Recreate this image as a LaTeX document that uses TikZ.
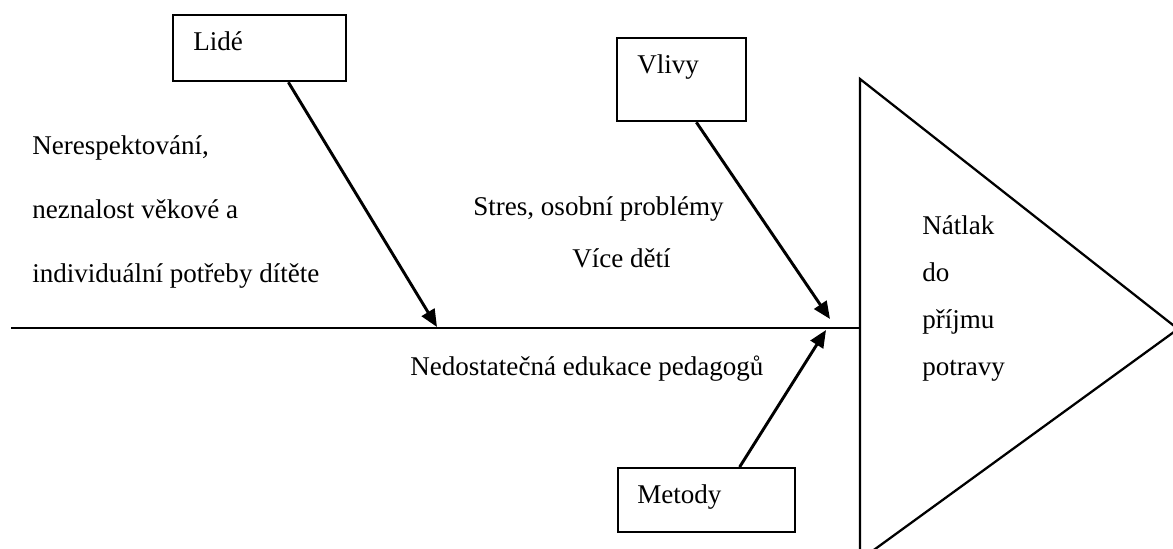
\documentclass[tikz,border=0pt]{standalone}
\usepackage{fontspec}
\setmainfont{Liberation Serif}
\usetikzlibrary{arrows.meta,positioning,calc}

\begin{document}
\begin{tikzpicture}[x=0.75pt,y=-0.75pt,cause box/.style={draw,line width=1.7pt,inner sep=0pt},cause text/.style={anchor=base west,inner sep=0pt,font=\fontsize{20.3}{24}\selectfont},bone/.style={line width=2.2pt,-{Triangle[length=13pt,width=11pt]}}]
\useasboundingbox (0,0) rectangle (1173,549);
% hlava ryby
\draw[line width=1.7pt] (860,79) -- (1178,329) -- (860,560) -- cycle;
\coordinate (spine start) at (11,328);
\coordinate (spine end) at (860,328);
\draw[line width=1.5pt] (spine start) -- (spine end);
% kategorie
\node[cause box,minimum width=173*0.75pt,minimum height=66*0.75pt,anchor=north west] (lide) at (172,14) {};
\node[cause box,minimum width=129*0.75pt,minimum height=83*0.75pt,anchor=north west] (vlivy) at (616,37) {};
\node[cause box,minimum width=177*0.75pt,minimum height=64*0.75pt,anchor=north west] (metody) at (617,467) {};
\node[cause text] (lide text) at (193,51) {Lidé};
\node[cause text] (vlivy text) at (637,74) {Vlivy};
\node[cause text] (metody text) at (637,503) {Metody};
% kosti
\coordinate (lide out) at ($(lide.south west)!0.664!(lide.south east)$);
\coordinate (vlivy out) at ($(vlivy.south west)!0.612!(vlivy.south east)$);
\coordinate (metody out) at ($(metody.north west)!0.684!(metody.north east)$);
\coordinate (lide in) at (437,327);
\coordinate (vlivy in) at (830,319);
\coordinate (metody in) at (826,330);
\draw[bone] (lide out) -- (lide in);
\draw[bone] (vlivy out) -- (vlivy in);
\draw[bone] (metody out) -- (metody in);
% priciny
\node[cause text] (p1) at (32,155) {Nerespektování,};
\node[cause text] (p2) at (32,218) {neznalost věkové a};
\node[cause text] (p3) at (32,282) {individuální potřeby dítěte};
\node[cause text] (v1) at (473,215) {Stres, osobní problémy};
\node[cause text] (v2) at (572,267) {Více dětí};
\node[cause text] (m1) at (410,375) {Nedostatečná edukace pedagogů};
% nasledek
\node[cause text] (n1) at (922,234) {Nátlak};
\node[cause text] (n2) at (922,281) {do};
\node[cause text] (n3) at (922,328) {příjmu};
\node[cause text] (n4) at (922,375) {potravy};
\end{tikzpicture}
\end{document}
